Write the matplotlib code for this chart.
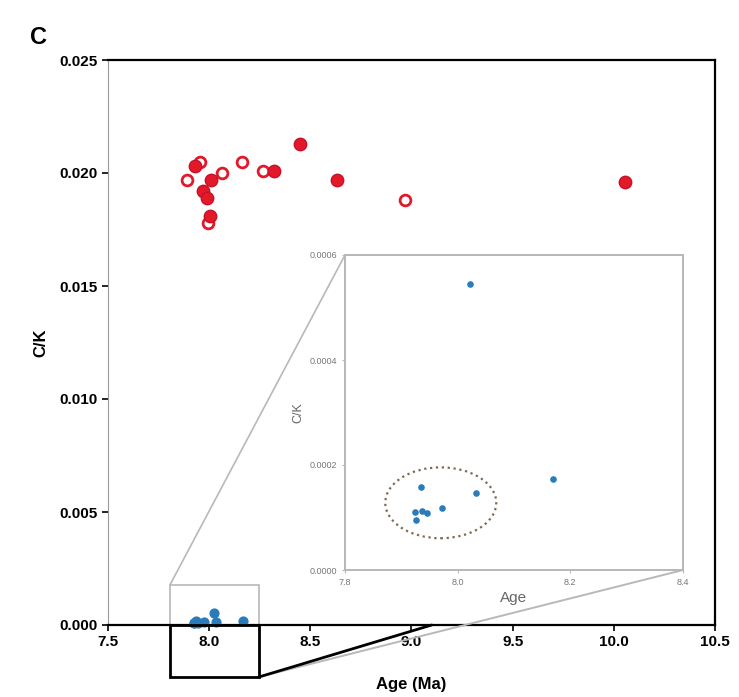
import matplotlib
matplotlib.use('Agg')
import matplotlib.pyplot as plt
import numpy as np
from matplotlib import patches
from matplotlib.patches import ConnectionPatch
from matplotlib.transforms import blended_transform_factory

plt.rcParams['font.family'] = ['Liberation Sans', 'DejaVu Sans']

# red group, open markers
RED_OPEN_AGE = [7.955, 7.89, 8.064, 8.162, 8.266, 8.968, 7.994]
RED_OPEN_CK = [0.0205, 0.0197, 0.0200, 0.0205, 0.0201, 0.0188, 0.0178]
# red group, filled markers
RED_FILL_AGE = [7.93, 8.01, 8.32, 8.449, 7.97, 7.99, 8.004, 8.632, 10.056]
RED_FILL_CK = [0.0203, 0.0197, 0.0201, 0.0213, 0.0192, 0.0189, 0.0181, 0.0197, 0.0196]
# blue group (shown again in the inset)
BLUE_AGE = [7.935, 8.033, 7.972, 7.924, 7.937, 7.946, 7.926, 8.169, 8.022]
BLUE_CK = [0.000158, 0.000147, 0.000118, 0.000110, 0.000112, 0.000109, 0.000095, 0.000173, 0.000545]

MAIN_XTICKS = [7.5, 8.0, 8.5, 9.0, 9.5, 10.0, 10.5]
MAIN_YTICKS = [0.000, 0.005, 0.010, 0.015, 0.020, 0.025]
INSET_XTICKS = [7.8, 8.0, 8.2, 8.4]
INSET_YTICKS = [0.0000, 0.0002, 0.0004, 0.0006]

RED = '#e3192a'
BLUE = '#2b7bba'
GREY = '#b8b8b8'

fig = plt.figure(figsize=(7.39, 6.97), dpi=100)
ax = fig.add_axes([108 / 739, 72 / 697, 607 / 739, 565 / 697])

ax.scatter(RED_OPEN_AGE, RED_OPEN_CK, s=60, facecolor='white', edgecolor=RED, linewidth=2, zorder=3)
ax.scatter(RED_FILL_AGE, RED_FILL_CK, s=80, color=RED, edgecolor='#c4122a', zorder=3)
ax.scatter(BLUE_AGE, BLUE_CK, s=40, color=BLUE, zorder=3, clip_on=False)

ax.set_xlim(7.5, 10.5)
ax.set_ylim(0, 0.025)
ax.set_xticks(MAIN_XTICKS)
ax.set_yticks(MAIN_YTICKS)
ax.set_xticklabels([f'{v:.1f}' for v in MAIN_XTICKS], fontweight='bold', fontsize=11)
ax.set_yticklabels([f'{v:.3f}' for v in MAIN_YTICKS], fontweight='bold', fontsize=11)
ax.tick_params(direction='out', length=4, width=1.2)
for side in ['top', 'right', 'bottom']:
    ax.spines[side].set_linewidth(1.6)
ax.spines['left'].set_color('#999999')
ax.set_xlabel('Age (Ma)', fontweight='bold', fontsize=12, labelpad=20)
ax.set_ylabel('C/K', fontweight='bold', fontsize=12, labelpad=8)
fig.text(30 / 739, 1 - 38 / 697, 'C', fontweight='bold', fontsize=17, ha='left', va='center')

# zoom box in main axes
ax.add_patch(patches.Rectangle((7.806, 0), 0.44, 0.00177, fill=False, edgecolor=GREY, linewidth=1.2, zorder=2))
trans = blended_transform_factory(ax.transData, ax.transAxes)
ax.add_patch(patches.Rectangle((7.806, -0.092), 0.44, 0.092, fill=False, edgecolor='black',
                               linewidth=2, transform=trans, clip_on=False, zorder=4))

# inset
ins = fig.add_axes([345 / 739, 127 / 697, 338 / 739, 315 / 697])
ins.scatter(BLUE_AGE, BLUE_CK, s=14, color=BLUE, zorder=3)
ins.add_patch(patches.Ellipse((7.97, 0.000128), 0.197, 0.000135, fill=False,
                              edgecolor='#7d6a55', linestyle=':', linewidth=1.6))
ins.set_xlim(7.8, 8.4)
ins.set_ylim(0, 0.0006)
ins.set_xticks(INSET_XTICKS)
ins.set_yticks(INSET_YTICKS)
ins.set_xticklabels([f'{v:.1f}' for v in INSET_XTICKS], fontsize=6.5, color='#777777')
ins.set_yticklabels([f'{v:.4f}' for v in INSET_YTICKS], fontsize=6.5, color='#777777')
ins.tick_params(length=2, color=GREY)
for sp in ins.spines.values():
    sp.set_color(GREY)
    sp.set_linewidth(1.4)
ins.set_xlabel('Age', fontsize=11, color='#666666', labelpad=3)
ins.set_ylabel('C/K', fontsize=9, color='#666666', labelpad=4)

# connector lines
c1 = ConnectionPatch(xyA=(7.806, 0.00177), coordsA=ax.transData, xyB=(0, 1), coordsB=ins.transAxes,
                     color=GREY, linewidth=1.2)
fig.add_artist(c1)
c2 = ConnectionPatch(xyA=(8.246, -0.092), coordsA=trans, xyB=(1, 0), coordsB=ins.transAxes,
                     color=GREY, linewidth=1.4)
fig.add_artist(c2)
c3 = ConnectionPatch(xyA=(8.246, -0.092), coordsA=trans, xyB=(9.1, 0), coordsB=trans,
                     color='black', linewidth=2)
fig.add_artist(c3)

fig.savefig('out.png', dpi=100)
